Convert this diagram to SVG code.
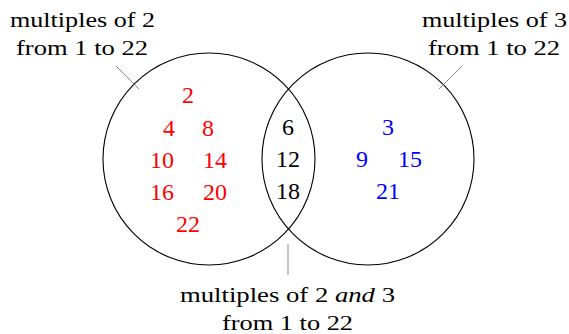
<svg xmlns="http://www.w3.org/2000/svg" width="569" height="334" viewBox="0 0 569 334">
<style>
.c{fill:none;stroke:#000;stroke-width:1.1}
.p{stroke:#8c8c8c;stroke-width:1}
.l{fill:#000;text-anchor:middle}
.n{text-anchor:middle}
.r{fill:#ff0000}.b{fill:#0000ff}.k{fill:#000}
</style>
<rect width="569" height="334" fill="#fff"/>
<g id="setA"><circle class="c" cx="209" cy="159" r="106"/></g>
<g id="setB"><circle class="c" cx="368" cy="159" r="106"/></g>
<g id="connectors">
<line class="p" x1="116" y1="66" x2="139" y2="89"/>
<line class="p" x1="462" y1="66" x2="439" y2="89"/>
<line class="p" x1="288" y1="244" x2="288" y2="275"/>
</g>
<g id="labelA">
<text class="l" font-family="Liberation Serif" font-size="20" x="82.5" y="27" textLength="145" lengthAdjust="spacingAndGlyphs">multiples of 2</text>
<text class="l" font-family="Liberation Serif" font-size="20" x="82" y="55" textLength="132" lengthAdjust="spacingAndGlyphs">from 1 to 22</text>
</g>
<g id="labelB">
<text class="l" font-family="Liberation Serif" font-size="20" x="494.5" y="27" textLength="145" lengthAdjust="spacingAndGlyphs">multiples of 3</text>
<text class="l" font-family="Liberation Serif" font-size="20" x="494" y="55" textLength="132" lengthAdjust="spacingAndGlyphs">from 1 to 22</text>
</g>
<g id="labelAB">
<text class="l" font-family="Liberation Serif" font-size="20" x="287.5" y="302" textLength="215" lengthAdjust="spacingAndGlyphs">multiples of 2 <tspan font-family="Liberation Serif" font-style="italic">and</tspan> 3</text>
<text class="l" font-family="Liberation Serif" font-size="20" x="287.5" y="330" textLength="131" lengthAdjust="spacingAndGlyphs">from 1 to 22</text>
</g>
<g id="onlyA">
<text class="n r" font-family="Liberation Serif" font-size="24" x="188" y="103">2</text>
<text class="n r" font-family="Liberation Serif" font-size="24" x="169" y="136">4</text>
<text class="n r" font-family="Liberation Serif" font-size="24" x="208" y="136">8</text>
<text class="n r" font-family="Liberation Serif" font-size="24" x="162" y="168">10</text>
<text class="n r" font-family="Liberation Serif" font-size="24" x="215" y="168">14</text>
<text class="n r" font-family="Liberation Serif" font-size="24" x="162" y="200">16</text>
<text class="n r" font-family="Liberation Serif" font-size="24" x="215" y="200">20</text>
<text class="n r" font-family="Liberation Serif" font-size="24" x="188" y="232">22</text>
</g>
<g id="both">
<text class="n k" font-family="Liberation Serif" font-size="24" x="288" y="135">6</text>
<text class="n k" font-family="Liberation Serif" font-size="24" x="288" y="167">12</text>
<text class="n k" font-family="Liberation Serif" font-size="24" x="288" y="199">18</text>
</g>
<g id="onlyB">
<text class="n b" font-family="Liberation Serif" font-size="24" x="388" y="135">3</text>
<text class="n b" font-family="Liberation Serif" font-size="24" x="362" y="167">9</text>
<text class="n b" font-family="Liberation Serif" font-size="24" x="410" y="167">15</text>
<text class="n b" font-family="Liberation Serif" font-size="24" x="388" y="199">21</text>
</g>
</svg>
